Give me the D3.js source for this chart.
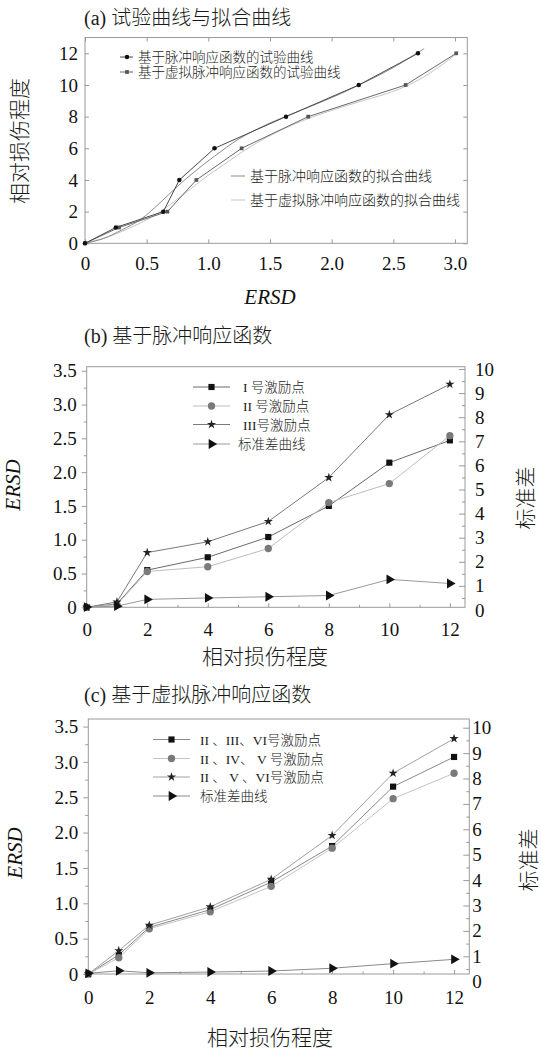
<!DOCTYPE html>
<html>
<head>
<meta charset="utf-8">
<script src="https://cdn.jsdelivr.net/npm/d3@7"></script>
<style>
  body { margin: 0; background: #fff; }
</style>
</head>
<body>
<div id="chart"></div>
<script>
// ---- panel (a): ERSD vs relative damage, test curves and fitted curves
const damageA = [0, 1, 2, 4, 6, 8, 10, 12];
const ersdImpulse = [0, 0.25, 0.635, 0.765, 1.05, 1.63, 2.22, 2.70];
const ersdVirtual = [0, 0.276, 0.668, 0.903, 1.27, 1.81, 2.60, 3.01];
// fitted curves (ERSD, damage)
const fitImpulseX = [0, 0.15, 0.3, 0.45, 0.6, 0.75, 0.9, 1.05, 1.25, 1.5, 1.75, 2.0, 2.25, 2.5, 2.75];
const fitImpulseY = [0, 0.3, 0.85, 1.5, 2.5, 3.6, 4.6, 5.5, 6.6, 7.6, 8.4, 9.2, 10.1, 11.1, 12.3];
const fitVirtualX = [0, 0.2, 0.4, 0.55, 0.7, 0.85, 1.0, 1.15, 1.3, 1.5, 1.75, 2.0, 2.25, 2.5, 2.7, 2.9, 3.03];
const fitVirtualY = [0, 0.45, 1.1, 1.7, 2.5, 3.4, 4.3, 5.1, 5.9, 6.8, 7.7, 8.4, 9.0, 9.6, 10.3, 11.3, 12.1];
const ersdTicksA = [0, 0.5, 1.0, 1.5, 2.0, 2.5, 3.0];
const damageTicksA = [0, 2, 4, 6, 8, 10, 12];

// ---- panels (b) and (c): relative damage vs ERSD, std on right axis
const damage = [0, 1, 2, 4, 6, 8, 10, 12];
const bPoint1 = [0, 0.05, 0.55, 0.74, 1.04, 1.50, 2.14, 2.47];
const bPoint2 = [0, 0.04, 0.53, 0.60, 0.87, 1.55, 1.83, 2.54];
const bPoint3 = [0, 0.08, 0.81, 0.97, 1.27, 1.92, 2.85, 3.30];
const bStd = [0.12, 0.16, 0.44, 0.50, 0.55, 0.60, 1.27, 1.10];
const cGroup236 = [0, 0.27, 0.66, 0.91, 1.30, 1.81, 2.65, 3.07];
const cGroup245 = [0, 0.23, 0.64, 0.88, 1.24, 1.78, 2.48, 2.84];
const cGroup256 = [0, 0.33, 0.69, 0.95, 1.34, 1.96, 2.84, 3.33];
const cStd = [0.33, 0.43, 0.35, 0.38, 0.42, 0.53, 0.71, 0.88];
const damageTicks = [0, 2, 4, 6, 8, 10, 12];
const ersdTicks = [0, 0.5, 1.0, 1.5, 2.0, 2.5, 3.0, 3.5];
const stdTicks = [0, 1, 2, 3, 4, 5, 6, 7, 8, 9, 10];

const serif = '"Liberation Serif", "Times New Roman", serif';
const cjk = '"Liberation Serif", "Noto Sans CJK SC", serif';

const svg = d3.select('#chart').append('svg')
    .attr('width', 541)
    .attr('height', 1050);

const axisColor = '#9a9a9a';
const zip = (xs, ys) => xs.map((x, i) => [x, ys[i]]);
const fmtErsd = d => d === 0 ? '0' : d.toFixed(1);

function styleAxis(g, size) {
  g.attr('font-family', serif);
  g.select('.domain').remove();
  g.selectAll('line').attr('stroke', axisColor);
  g.selectAll('text').attr('font-size', size).attr('font-family', serif).attr('fill', '#111');
}

function label(g, txt, size) {
  return g.append('text')
      .attr('font-family', cjk)
      .attr('font-weight', 300)
      .attr('font-size', size)
      .attr('fill', '#1a1a1a')
      .text(txt);
}

function marker(type, size, rotate) {
  const path = d3.symbol().type(type).size(size)();
  return {path, rotate: rotate || 0};
}

// ================= panel (a) =================
{
  const left = 85, right = 467.3, top = 37.5, bottom = 243.3;
  const x = d3.scaleLinear().domain([0, 3.1]).range([left, right]);
  const y = d3.scaleLinear().domain([0, 13]).range([bottom, top]);
  const g = svg.append('g');

  label(g, '(a) 试验曲线与拟合曲线', 20).attr('x', 84).attr('y', 25);

  g.append('rect')
      .attr('x', left).attr('y', top)
      .attr('width', right - left).attr('height', bottom - top)
      .attr('fill', 'none').attr('stroke', axisColor);

  g.append('g').attr('transform', `translate(0,${bottom})`)
      .call(d3.axisBottom(x).tickValues(ersdTicksA).tickSize(-4).tickPadding(13).tickFormat(fmtErsd))
      .call(a => styleAxis(a, 19));
  g.append('g').attr('transform', `translate(0,${top})`)
      .call(d3.axisTop(x).tickValues(ersdTicksA).tickSize(-4).tickFormat(''))
      .call(a => styleAxis(a, 19));
  g.append('g').attr('transform', `translate(${left},0)`)
      .call(d3.axisLeft(y).tickValues(damageTicksA).tickSize(-4).tickPadding(7))
      .call(a => styleAxis(a, 19));
  g.append('g').attr('transform', `translate(${right},0)`)
      .call(d3.axisRight(y).tickValues(damageTicksA).tickSize(-4).tickFormat(''))
      .call(a => styleAxis(a, 19));

  label(g, '相对损伤程度', 21)
      .attr('transform', 'translate(27,141) rotate(-90)')
      .attr('text-anchor', 'middle');
  g.append('text')
      .attr('x', 270).attr('y', 304)
      .attr('font-family', serif).attr('fill', '#111')
      .attr('text-anchor', 'middle').attr('font-size', 21).attr('font-style', 'italic')
      .text('ERSD');

  const line = d3.line().x(d => x(d[0])).y(d => y(d[1]));
  const smooth = d3.line().x(d => x(d[0])).y(d => y(d[1])).curve(d3.curveCatmullRom);

  g.append('path').datum(zip(fitVirtualX, fitVirtualY))
      .attr('fill', 'none').attr('stroke', '#c4c4c4').attr('stroke-width', 1).attr('d', smooth);
  g.append('path').datum(zip(fitImpulseX, fitImpulseY))
      .attr('fill', 'none').attr('stroke', '#8a8a8a').attr('stroke-width', 1).attr('d', smooth);

  g.append('path').datum(zip(ersdVirtual, damageA))
      .attr('fill', 'none').attr('stroke', '#6a6a6a').attr('stroke-width', 1).attr('d', line);
  g.append('path').datum(zip(ersdImpulse, damageA))
      .attr('fill', 'none').attr('stroke', '#4a4a4a').attr('stroke-width', 1).attr('d', line);

  const sq = marker(d3.symbolSquare, 14);
  const ci = marker(d3.symbolCircle, 16);
  g.selectAll('.mv').data(zip(ersdVirtual, damageA)).join('path')
      .attr('transform', d => `translate(${x(d[0])},${y(d[1])})`)
      .attr('d', sq.path).attr('fill', '#555');
  g.selectAll('.mi').data(zip(ersdImpulse, damageA)).join('path')
      .attr('transform', d => `translate(${x(d[0])},${y(d[1])})`)
      .attr('d', ci.path).attr('fill', '#111');

  // legends
  const legTop = [
    {label: '基于脉冲响应函数的试验曲线', y: 57, stroke: '#4a4a4a', m: ci, fill: '#111'},
    {label: '基于虚拟脉冲响应函数的试验曲线', y: 72, stroke: '#6a6a6a', m: sq, fill: '#555'}
  ];
  legTop.forEach(d => {
    g.append('line').attr('x1', 120).attr('x2', 133).attr('y1', d.y).attr('y2', d.y)
        .attr('stroke', d.stroke);
    g.append('path').attr('transform', `translate(127,${d.y})`).attr('d', d.m.path).attr('fill', d.fill);
    label(g, d.label, 13.5).attr('x', 138).attr('y', d.y + 5);
  });
  const legBottom = [
    {label: '基于脉冲响应函数的拟合曲线', y: 176, stroke: '#8a8a8a'},
    {label: '基于虚拟脉冲响应函数的拟合曲线', y: 200, stroke: '#c4c4c4'}
  ];
  legBottom.forEach(d => {
    g.append('line').attr('x1', 231).attr('x2', 245).attr('y1', d.y).attr('y2', d.y)
        .attr('stroke', d.stroke);
    label(g, d.label, 14).attr('x', 250).attr('y', d.y + 5);
  });
}

// ================= panels (b) and (c) =================
function drawPanel(p) {
  const g = svg.append('g');
  const x = d3.scaleLinear().domain([0, 12.5]).range([p.left, p.right]);
  const y = d3.scaleLinear().domain([0, p.ersdMax]).range([p.bottom, p.top]);
  const y2 = d3.scaleLinear().domain([0, 10]).range(p.stdRange);

  label(g, p.title, 20).attr('x', 84).attr('y', p.titleY);

  g.append('rect')
      .attr('x', p.left).attr('y', p.top)
      .attr('width', p.right - p.left).attr('height', p.bottom - p.top)
      .attr('fill', 'none').attr('stroke', axisColor);

  // bottom axis, ticks inside
  g.append('g').attr('transform', `translate(0,${p.bottom})`)
      .call(d3.axisBottom(x).tickValues(damageTicks).tickSize(-4).tickPadding(p.xPad))
      .call(a => styleAxis(a, 19));
  g.append('g').attr('transform', `translate(0,${p.bottom})`)
      .call(d3.axisBottom(x).tickValues([1, 3, 5, 7, 9, 11]).tickSize(-2.5).tickFormat(''))
      .call(a => styleAxis(a, 19));
  // left axis, ticks outside
  g.append('g').attr('transform', `translate(${p.left},0)`)
      .call(d3.axisLeft(y).tickValues(ersdTicks).tickSize(5).tickPadding(5).tickFormat(fmtErsd))
      .call(a => styleAxis(a, 19));
  g.append('g').attr('transform', `translate(${p.left},0)`)
      .call(d3.axisLeft(y).tickValues(d3.range(0.25, 3.5, 0.5)).tickSize(3).tickFormat(''))
      .call(a => styleAxis(a, 19));
  // right axis (std), ticks inside
  const ra = g.append('g').attr('transform', `translate(${p.right},0)`)
      .call(d3.axisRight(y2).tickValues(stdTicks).tickSize(-6).tickPadding(p.rPad))
      .call(a => styleAxis(a, 19));
  ra.selectAll('.tick').filter(d => y2(d) > p.bottom).select('line').remove();
  g.append('g').attr('transform', `translate(${p.right},0)`)
      .call(d3.axisRight(y2).tickValues(d3.range(0.5, 10, 1)).tickSize(-3).tickFormat(''))
      .call(a => styleAxis(a, 19));

  g.append('text')
      .attr('transform', `translate(${p.ersdLabel[0]},${p.ersdLabel[1]}) rotate(-90)`)
      .attr('font-family', serif).attr('fill', '#111')
      .attr('text-anchor', 'middle').attr('font-size', 21).attr('font-style', 'italic')
      .text('ERSD');
  label(g, '标准差', 21)
      .attr('transform', `translate(${p.stdLabel[0]},${p.stdLabel[1]}) rotate(-90)`)
      .attr('text-anchor', 'middle');
  label(g, '相对损伤程度', 21)
      .attr('x', p.xLabel[0]).attr('y', p.xLabel[1])
      .attr('text-anchor', 'middle');

  p.series.forEach(s => {
    const sy = s.right ? y2 : y;
    const pts = zip(damage, s.values);
    g.append('path').datum(pts)
        .attr('fill', 'none').attr('stroke', s.stroke).attr('stroke-width', 1)
        .attr('d', d3.line().x(d => x(d[0])).y(d => sy(d[1])));
    g.selectAll(null).data(pts).join('path')
        .attr('transform', d => `translate(${x(d[0])},${sy(d[1])}) rotate(${s.m.rotate})`)
        .attr('d', s.m.path).attr('fill', s.fill);
  });

  // legend
  p.series.forEach((s, i) => {
    const ly = p.legend.rows[i];
    g.append('line').attr('x1', p.legend.x1).attr('x2', p.legend.x2)
        .attr('y1', ly).attr('y2', ly).attr('stroke', s.stroke);
    g.append('path')
        .attr('transform', `translate(${(p.legend.x1 + p.legend.x2) / 2},${ly}) rotate(${s.m.rotate})`)
        .attr('d', s.m.path).attr('fill', s.fill);
    label(g, s.label, 13.5)
        .attr('x', s.right ? p.legend.stdTextX : p.legend.textX).attr('y', ly + 5);
  });
}

const mSquare = marker(d3.symbolSquare, 38);
const mCircle = marker(d3.symbolCircle, 42);
const mStar = marker(d3.symbolStar, 26);
const mTri = marker(d3.symbolTriangle, 42, 90);

drawPanel({
  title: '(b) 基于脉冲响应函数', titleY: 343,
  left: 86.7, right: 465, top: 366.7, bottom: 607.3,
  ersdMax: 3.56, stdRange: [610, 369],
  xPad: 15, rPad: 10,
  ersdLabel: [20, 485], stdLabel: [533, 498], xLabel: [265, 664],
  legend: {x1: 193, x2: 230, textX: 243, stdTextX: 238, rows: [387, 406, 424.5, 444]},
  series: [
    {label: 'I 号激励点', values: bPoint1, stroke: '#6a6a6a', fill: '#111', m: mSquare},
    {label: 'II 号激励点', values: bPoint2, stroke: '#bdbdbd', fill: '#7a7a7a', m: mCircle},
    {label: 'III号激励点', values: bPoint3, stroke: '#7a7a7a', fill: '#222', m: mStar},
    {label: '标准差曲线', values: bStd, stroke: '#9a9a9a', fill: '#111', m: mTri, right: true}
  ]
});

drawPanel({
  title: '(c) 基于虚拟脉冲响应函数', titleY: 702,
  left: 88.3, right: 469.3, top: 719, bottom: 974,
  ersdMax: 3.607, stdRange: [981.7, 727.7],
  xPad: 17, rPad: 3,
  ersdLabel: [22, 853], stdLabel: [536, 860], xLabel: [270, 1045],
  legend: {x1: 153, x2: 190, textX: 200, stdTextX: 200, rows: [739.5, 758.5, 777, 796]},
  series: [
    {label: 'II 、III、VI号激励点', values: cGroup236, stroke: '#8a8a8a', fill: '#111', m: mSquare},
    {label: 'II 、IV、 V 号激励点', values: cGroup245, stroke: '#c4c4c4', fill: '#7a7a7a', m: mCircle},
    {label: 'II 、 V 、VI号激励点', values: cGroup256, stroke: '#a0a0a0', fill: '#222', m: mStar},
    {label: '标准差曲线', values: cStd, stroke: '#8a8a8a', fill: '#111', m: mTri, right: true}
  ]
});
</script>
</body>
</html>
